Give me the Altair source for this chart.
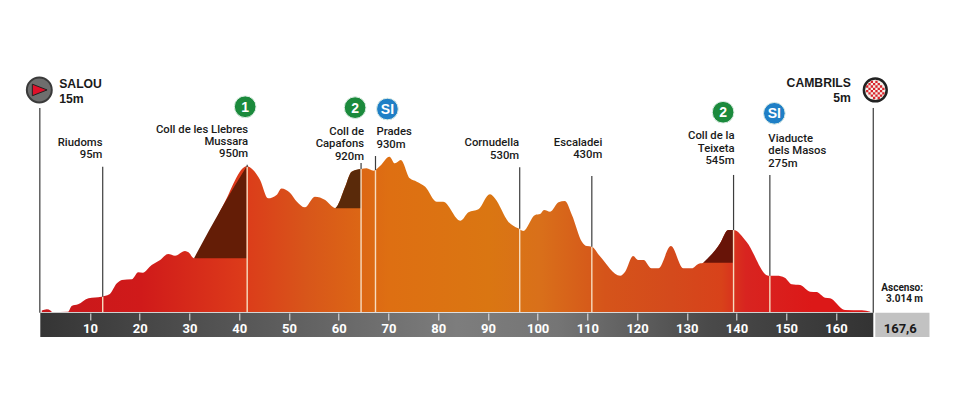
import math
import altair as alt
import pandas as pd

# Stage profile
profile_km = [0.3,1.3,2.1,2.4,5.6,6.3,7.6,9.7,12.3,13.9,15.4,16.4,18.4,19.7,20.6,22.4,24.1,25.7,27.1,29.1,29.8,30.9,36.7,41.5,
              42.8,44.2,45.8,47.5,48.5,50.2,51.6,53.2,55.2,57.3,58.9,59.3,59.6,61.3,62.6,64.5,65.6,67.0,68.3,70.2,71.3,72.5,
              74.3,75.7,77.4,79.7,81.0,84.5,86.1,88.1,90.4,91.4,94.1,96.1,97.1,99.5,100.5,101.3,102.5,104.2,105.5,106.9,108.9,
              109.9,110.9,112.5,116.6,117.6,119.2,120.2,121.3,122.9,124.3,126.8,129.3,131.0,132.3,133.3,136.7,138.3,139.4,142.0,
              146.4,148.1,149.7,151.1,152.8,154.8,156.1,157.8,158.8,161.8,165.2,166.9]
profile_m = [10,18,9,0,2,39,50,90,100,116,188,210,214,260,258,308,341,380,369,400,391,352,695,955,
             930,865,745,767,810,782,723,686,756,734,686,680,690,821,919,937,942,926,957,1018,974,996,
             876,854,821,723,723,598,653,673,771,745,592,548,531,636,642,668,657,719,727,636,461,
             432,428,367,238,264,367,341,341,286,286,432,286,286,315,323,450,537,537,461,
             238,238,225,182,177,133,131,94,90,13,11,2]

# Climb sections: first km, last km, base level, colour
climb_from = [30.9, 59.3, 133.3]
climb_to = [41.5, 64.5, 139.4]
climb_base = [352, 680, 323]
climb_color = ["#641d06", "#5a2a0a", "#681408"]

# Waypoints
way_km = [12.55, 41.6, 64.5, 67.4, 96.4, 110.9, 139.4, 146.7]
way_ground = [100, 950, 937, 930, 545, 428, 537, 238]
way_top = [952, 965, 976, 1022, 948, 891, 898, 898]

end_km = [-0.1, 167.5]
end_top = [1337, 1337]

# Text: line, km, level, alignment
label_text = ["Riudoms","95m","Coll de les Llebres","Mussara","950m","Coll de","Capafons","920m","Cornudella","530m",
              "Escaladei","430m","Coll de la","Teixeta","545m"]
label_km = [12.5,12.5,41.8,41.8,41.8,65.1,65.1,65.1,96.3,96.3,113,113,139.6,139.6,139.6]
label_m = [1088,1007,1175,1092,1014,1158,1079,996,1088,1004,1090,1011,1132,1048,968]

left_text = ["Prades","930m","Viaducte","dels Masos","275m"]
left_km = [67.6,67.6,146.4,146.4,146.4]
left_m = [1160,1077,1114,1034,952]

town_text = ["SALOU","15m","CAMBRILS","5m"]
town_km = [3.8,3.8,163,163]
town_m = [1468,1370,1476,1378]
town_align = ["left","left","right","right"]

asc_text = ["Ascenso:","3.014 m"]
asc_km = [177.5,177.5]
asc_m = [138,65]

# Badges
badge_km = [41.2,63.3,137.3,69.8,147.6]
badge_m = [1345,1339,1309,1330,1302]
badge_text = ["1","2","2","SI","SI"]
badge_color = ["#1b8a3c","#1b8a3c","#1b8a3c","#1f7fc6","#1f7fc6"]

ticks = [10,20,30,40,50,60,70,80,90,100,110,120,130,140,150,160]
total_km = [167.9]
total_end = [178.8]
total_label = ["167,6"]
total_label_km = [169.6]
bar_low = [-164]
bar_high = [-5]

FONT = "Roboto"
LABEL = "#1a1a1a"

x_scale = alt.Scale(domain=[0, 167.6], nice=False, zero=False, clamp=False)
y_scale = alt.Scale(domain=[0, 1992], nice=False, zero=False, clamp=False)
x_axis = alt.Axis(
    values=ticks, domain=False, grid=False, title=None, zindex=1, format="d",
    tickColor="#e8e8e8", tickWidth=1, tickSize=7, offset=1, labelColor="#ffffff",
    labelFont=FONT, labelFontWeight="bold", labelFontSize=13, labelPadding=2, labelFlush=False,
)
X = alt.X("km:Q", scale=x_scale, axis=x_axis)
Y = alt.Y("m:Q", scale=y_scale, axis=None)

prof = pd.DataFrame({"km": profile_km, "m": profile_m})


def grad(stops):
    return alt.Gradient(
        gradient="linear", x1=0, x2=1, y1=0, y2=0,
        stops=[alt.GradientStop(offset=o, color=c) for o, c in stops],
    )


bar = alt.Chart(pd.DataFrame({"km": [0], "end": [167.5], "m": bar_low, "m2": bar_high})).mark_rect(
    color=grad([(0, "#353535"), (0.28, "#5c5c5c"), (0.5, "#7d7d7d"), (0.62, "#757575"),
                (0.8, "#4a4a4a"), (1, "#333333")])
).encode(x=X, x2="end:Q", y=Y, y2="m2:Q")

total_box = alt.Chart(pd.DataFrame({"km": total_km, "end": total_end, "m": bar_low, "m2": bar_high})).mark_rect(
    color="#c2c2c2"
).encode(x=X, x2="end:Q", y=Y, y2="m2:Q")

total_text = alt.Chart(pd.DataFrame({"km": total_label_km, "m": [-138], "t": total_label})).mark_text(
    font=FONT, fontWeight="bold", fontSize=13, align="left", baseline="alphabetic", color=LABEL
).encode(x=X, y=Y, text="t:N")

area = alt.Chart(prof).mark_area(
    color=grad([(0, "#c8171b"), (0.12, "#d01a1a"), (0.24, "#dc3a1a"), (0.32, "#d8561a"), (0.42, "#de6f12"),
                (0.54, "#da7612"), (0.6, "#d9701a"), (0.68, "#d5541a"), (0.76, "#d44a1c"), (0.82, "#d8421a"),
                (0.85, "#d82420"), (0.93, "#dc1818"), (1, "#dc1818")]),
    interpolate="monotone",
).encode(x=X, y=Y)

dark_layers = []
for a, b, base, col in zip(climb_from, climb_to, climb_base, climb_color):
    part = prof[(prof.km >= a) & (prof.km <= b)].assign(base=base)
    dark_layers.append(
        alt.Chart(part).mark_area(color=col, interpolate="monotone").encode(x=X, y=Y, y2="base:Q")
    )

inner = alt.Chart(pd.DataFrame({"km": way_km, "m": [0] * len(way_km), "m2": way_ground})).mark_rule(
    color="#f7dcc0", strokeWidth=1.4
).encode(x=X, y=Y, y2="m2:Q")

outer = alt.Chart(pd.DataFrame({"km": way_km, "m": way_ground, "m2": way_top})).mark_rule(
    color="#3d3d3d", strokeWidth=1.2
).encode(x=X, y=Y, y2="m2:Q")

ends = alt.Chart(pd.DataFrame({"km": end_km, "m": [-5, -5], "m2": end_top})).mark_rule(
    color="#555555", strokeWidth=1.4
).encode(x=X, y=Y, y2="m2:Q")

labels = alt.Chart(pd.DataFrame({"km": label_km, "m": label_m, "t": label_text})).mark_text(
    font=FONT, fontWeight=500, fontSize=11.3, align="right", baseline="alphabetic", color=LABEL
).encode(x=X, y=Y, text="t:N")

labels_left = alt.Chart(pd.DataFrame({"km": left_km, "m": left_m, "t": left_text})).mark_text(
    font=FONT, fontWeight=500, fontSize=11.3, align="left", baseline="alphabetic", color=LABEL
).encode(x=X, y=Y, text="t:N")

towns = []
for side in ["left", "right"]:
    d = pd.DataFrame({"km": town_km, "m": town_m, "t": town_text, "a": town_align})
    towns.append(
        alt.Chart(d[d.a == side]).mark_text(
            font="Liberation Sans", fontWeight="bold", fontSize=12.2, align=side, baseline="alphabetic", color=LABEL
        ).encode(x=X, y=Y, text="t:N")
    )

asc = alt.Chart(pd.DataFrame({"km": asc_km, "m": asc_m, "t": asc_text})).mark_text(
    font=FONT, fontWeight="bold", fontSize=10, align="right", baseline="alphabetic", color=LABEL
).encode(x=X, y=Y, text="t:N")

badges = alt.Chart(pd.DataFrame({"km": badge_km, "m": badge_m, "c": badge_color})).mark_point(
    filled=True, shape="circle", size=470, opacity=1, stroke="#dfeee6", strokeWidth=1
).encode(x=X, y=Y, color=alt.Color("c:N", scale=None))

badge_txt = alt.Chart(pd.DataFrame({"km": badge_km, "m": badge_m, "t": badge_text})).mark_text(
    font="Liberation Sans", fontWeight="bold", fontSize=14, color="#ffffff", dy=1
).encode(x=X, y=Y, text="t:N")

# Start badge
start_d = pd.DataFrame({"km": [-0.2], "m": [1455]})
start_disc = alt.Chart(start_d).mark_point(
    filled=True, shape="circle", size=620, color="#6e6e6e", opacity=1, stroke="#3a3a3a", strokeWidth=2
).encode(x=X, y=Y)
start_arrow = alt.Chart(start_d).mark_point(
    filled=True, shape="M-0.9,-0.75L1,0L-0.9,0.75Z", size=240, color="#e0102a", opacity=1,
    stroke="#222222", strokeWidth=1
).encode(x=X, y=Y)

# Finish badge
finish_d = pd.DataFrame({"km": [167.9], "m": [1455]})
finish_disc = alt.Chart(finish_d).mark_point(
    filled=True, shape="circle", size=520, color="#f4f0ea", opacity=1, stroke="#222222", strokeWidth=2.5
).encode(x=X, y=Y)
cells = 8
path = ""
for i in range(cells):
    for j in range(cells):
        x0, y0 = -1 + 2 * i / cells, -1 + 2 * j / cells
        s = 2 / cells
        if (i + j) % 2 == 0 and math.hypot(x0 + s / 2, y0 + s / 2) < 1.0:
            path += f"M{x0:.3f},{y0:.3f}h{s:.3f}v{s:.3f}h-{s:.3f}Z"
finish_check = alt.Chart(finish_d).mark_point(
    filled=True, shape=path, size=340, color="#d8232a", opacity=1, strokeWidth=0
).encode(x=X, y=Y)

chart = alt.layer(
    bar, total_box, total_text, ends, area, *dark_layers, inner, outer,
    labels, labels_left, *towns, asc, badges, badge_txt,
    start_disc, start_arrow, finish_disc, finish_check,
).properties(
    width=833.5, height=304,
    autosize=alt.AutoSizeParams(type="none"),
    padding={"left": 32.3, "right": 78.2, "top": 0, "bottom": 80},
    background="#ffffff",
).configure_view(stroke=None)

chart.save("out.html", embed_options={"renderer": "svg", "actions": False})
